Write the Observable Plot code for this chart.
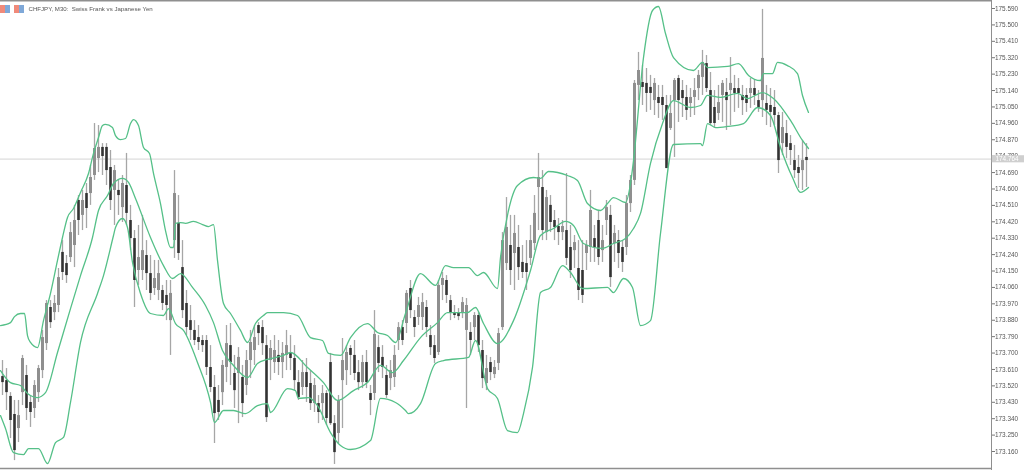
<!DOCTYPE html>
<html>
<head>
<meta charset="utf-8">
<script src="https://cdn.jsdelivr.net/npm/d3@7"></script>
<script src="https://cdn.jsdelivr.net/npm/@observablehq/plot@0.6"></script>
<style>
html,body{margin:0;padding:0;background:#fff;overflow:hidden}
#wrap{position:relative;width:1024px;height:470px}
#wrap svg{display:block;filter:blur(0.5px)}
.ico{position:absolute;top:5px;width:5px;height:8px;filter:blur(0.5px)}
</style>
</head>
<body>
<div id="wrap"></div>
<script>
const title = "CHFJPY, M30:  Swiss Frank vs Japanese Yen";
const lastPrice = 174.764;
const priceTicks = [175.59,175.50,175.41,175.32,175.23,175.14,175.05,174.96,174.87,174.78,174.69,174.60,174.51,174.42,174.33,174.24,174.15,174.06,173.97,173.88,173.79,173.70,173.61,173.52,173.43,173.34,173.25,173.16];

const highs = [173.659,173.615,173.483,173.440,173.440,173.687,173.632,173.467,173.549,173.632,
173.824,173.988,173.988,174.016,174.164,174.317,174.235,174.416,174.510,174.564,
174.592,174.630,174.729,174.959,174.948,174.849,174.849,174.811,174.729,174.647,
174.674,174.795,174.510,174.372,174.400,174.455,174.317,174.235,174.208,174.208,
174.071,174.098,174.098,174.701,174.564,174.317,174.043,173.961,173.878,173.851,
173.796,173.796,173.741,173.577,173.522,173.659,173.851,173.862,173.687,173.730,
173.632,173.714,173.824,173.851,173.867,173.878,173.796,173.769,173.796,173.769,
173.758,173.824,173.796,173.741,173.604,173.659,173.670,173.604,173.560,173.467,
173.522,173.494,173.698,173.357,173.467,173.780,173.741,173.741,173.769,173.659,
173.687,173.714,173.522,173.933,173.796,173.741,173.632,173.659,173.741,173.867,
173.878,174.043,174.098,173.933,174.005,174.027,173.988,173.851,173.796,174.098,
174.142,174.125,174.016,173.961,173.944,174.005,173.999,173.867,173.922,173.922,
173.769,173.687,173.676,173.659,173.835,174.361,174.553,174.455,174.455,174.400,
174.290,174.317,174.400,174.564,174.795,174.701,174.592,174.564,174.482,174.438,
174.427,174.685,174.400,174.345,174.317,174.317,174.317,174.592,174.400,174.482,
174.400,174.537,174.510,174.400,174.372,174.317,174.564,174.674,175.195,175.349,
175.277,175.261,175.223,175.206,175.168,175.168,175.113,175.113,175.206,175.223,
175.195,175.168,175.151,175.206,175.250,175.360,175.332,175.239,175.140,175.168,
175.195,175.206,175.321,175.223,175.206,175.168,175.151,175.206,175.195,175.140,
175.585,175.168,175.151,175.140,175.020,175.020,174.976,174.893,174.839,174.784,
174.866,174.849];

const lows = [173.467,173.385,173.231,173.110,173.209,173.412,173.330,173.292,173.341,173.429,
173.560,173.714,173.835,173.878,173.922,174.098,174.082,174.197,174.169,174.345,
174.372,174.383,174.510,174.647,174.690,174.674,174.619,174.482,174.400,174.455,
174.416,174.400,174.262,173.950,174.071,174.098,174.043,173.988,174.016,173.988,
173.933,173.878,173.687,174.219,174.208,173.889,173.796,173.769,173.741,173.714,
173.703,173.577,173.483,173.204,173.330,173.412,173.538,173.522,173.396,173.313,
173.346,173.467,173.560,173.632,173.741,173.687,173.319,173.549,173.588,173.577,
173.560,173.604,173.604,173.494,173.440,173.467,173.429,173.385,173.374,173.313,
173.330,173.303,173.303,173.089,173.204,173.286,173.522,173.577,173.549,173.494,
173.505,173.505,173.357,173.440,173.593,173.560,173.451,173.494,173.511,173.714,
173.741,173.807,173.889,173.785,173.851,173.824,173.785,173.687,173.643,173.687,
173.988,173.972,173.878,173.889,173.878,173.889,173.396,173.687,173.769,173.703,
173.505,173.494,173.549,173.560,173.604,173.824,174.153,174.071,174.043,174.098,
174.109,174.043,174.180,174.262,174.372,174.317,174.317,174.361,174.317,174.290,
174.317,174.180,174.109,174.164,173.988,173.972,174.153,174.197,174.197,174.180,
174.197,174.345,174.060,174.197,174.164,174.142,174.235,174.471,174.619,175.085,
175.058,175.020,175.031,175.003,174.987,174.976,174.712,174.921,174.773,174.965,
174.992,174.976,174.992,175.003,175.085,175.113,175.129,174.948,174.932,174.976,
174.965,174.921,174.948,175.020,175.042,175.003,175.020,175.042,175.058,175.020,
174.992,174.948,174.937,174.948,174.685,174.784,174.767,174.729,174.658,174.603,
174.592,174.608];

const bodyTops = [173.571,173.549,173.462,173.363,173.357,173.670,173.577,173.429,173.522,173.615,
173.785,173.972,173.950,173.972,174.114,174.252,174.191,174.361,174.427,174.537,
174.537,174.575,174.663,174.822,174.828,174.828,174.828,174.718,174.701,174.592,
174.630,174.619,174.427,174.328,174.224,174.262,174.235,174.136,174.109,174.136,
174.043,174.016,174.027,174.575,174.411,174.169,173.972,173.878,173.824,173.785,
173.769,173.769,173.621,173.511,173.440,173.632,173.752,173.741,173.588,173.676,
173.566,173.659,173.758,173.785,173.851,173.840,173.741,173.725,173.714,173.687,
173.698,173.741,173.698,173.670,173.538,173.593,173.593,173.533,173.522,173.423,
173.478,173.478,173.648,173.313,173.440,173.659,173.703,173.725,173.687,173.593,
173.648,173.648,173.478,173.802,173.730,173.676,173.577,173.604,173.687,173.840,
173.840,174.027,174.054,173.895,173.961,173.977,173.950,173.796,173.741,174.071,
174.109,174.098,173.988,173.922,173.922,173.977,173.961,173.813,173.906,173.906,
173.714,173.615,173.648,173.621,173.807,174.317,174.389,174.290,174.356,174.279,
174.197,174.191,174.317,174.466,174.663,174.608,174.553,174.510,174.427,174.394,
174.394,174.372,174.279,174.306,174.164,174.153,174.290,174.482,174.328,174.427,
174.317,174.498,174.455,174.356,174.317,174.279,174.520,174.647,175.179,175.250,
175.184,175.179,175.157,175.179,175.102,175.102,175.058,175.014,175.195,175.206,
175.140,175.102,175.102,175.140,175.223,175.294,175.288,175.140,175.047,175.074,
175.179,175.129,175.179,175.151,175.151,175.113,175.113,175.151,175.151,175.085,
175.316,175.069,175.058,175.047,175.003,174.937,174.904,174.849,174.756,174.718,
174.756,174.773];

const bodyBottoms = [173.538,173.483,173.330,173.165,173.286,173.483,173.396,173.374,173.396,173.483,
173.604,173.752,173.867,173.922,173.961,174.142,174.125,174.224,174.290,174.427,
174.455,174.493,174.575,174.674,174.767,174.778,174.701,174.537,174.592,174.564,
174.498,174.466,174.328,174.098,174.153,174.153,174.136,174.027,174.054,174.043,
173.972,173.961,173.878,174.317,174.246,173.933,173.840,173.824,173.769,173.758,
173.741,173.621,173.511,173.368,173.374,173.483,173.621,173.648,173.494,173.588,
173.423,173.522,173.659,173.714,173.807,173.752,173.346,173.659,173.648,173.648,
173.648,173.687,173.670,173.549,173.456,173.511,173.511,173.423,173.423,173.374,
173.423,173.341,173.313,173.154,173.259,173.549,173.604,173.687,173.588,173.538,
173.538,173.538,173.440,173.478,173.643,173.621,173.467,173.560,173.566,173.769,
173.769,173.862,173.933,173.840,173.895,173.895,173.840,173.730,173.670,173.703,
174.071,174.016,173.917,173.906,173.900,173.917,173.824,173.769,173.840,173.741,
173.560,173.533,173.593,173.582,173.643,173.840,174.191,174.153,174.246,174.169,
174.142,174.142,174.219,174.301,174.608,174.372,174.361,174.416,174.389,174.361,
174.361,174.219,174.153,174.262,174.043,174.016,174.246,174.279,174.279,174.224,
174.262,174.427,174.114,174.301,174.246,174.197,174.279,174.520,174.647,175.168,
175.157,175.124,175.124,175.085,175.069,175.058,174.712,174.932,175.085,175.085,
175.096,175.031,175.069,175.102,175.151,175.212,175.151,174.959,174.959,175.014,
175.113,175.085,175.140,175.124,175.124,175.085,175.069,175.124,175.113,175.047,
175.085,175.031,175.020,175.003,174.756,174.849,174.828,174.811,174.701,174.685,
174.701,174.756];

const directions = ("DDDDUUDDUU"+"UUDUUDDUUD"+"UDUUUDDDUD"+"UDDDUUDDUU"+"DDUUDDDDDD"+
"DDDDDUUDDU"+"DUUUDDDUUD"+"UUDDDUDDUD"+"UDDDUUUDDD"+"UDDUDDDUUU"+
"DUDDUUDDDU"+"UDDDDUUDUD"+"DUDUUUUDUD"+"DDUUUDUDDD"+"UDDUDDUUDD"+
"UUDUDDUUUU"+"DDDUDDDUUD"+"DDUUUUDDDU"+"UDUDDDDUDD"+"UDDDDUDDDD"+"UD").split("");

const upperBars = [0,2.5,3.5,5,6,6.75,7.5,9.25,10.75,12.5,14.25,15.5,16.75,18.25,20,22,23.25,24.5,25.5,26.25,28,28.75,30,31.25,32.5,33.25,34.5,35.75,37.25,38.25,40,41.25,42.5,43.25,43.75,45,46.25,48.25,50.5,52,53.25,54.25,55.75,57.5,60,61.75,63.75,65.75,66.75,70.75,74.25,77.5,80.5,82,85,87.5,91.75,94.25,96.75,98.75,101.25,105,108.75,111.25,113.25,117,119.25,120.75,124.25,125,127,129.25,133.25,135,137,141.75,144.25,146.75,150,151.75,153.25,156.25,157.5,158.25,160.75,163,164.5,166.25,168.25,173.25,175.5,176.75,181.75,184.5,187,190,190.75,193,194.25,196.75,199.25,200.5,202];
const upperPrices = [173.851,173.867,173.900,173.917,173.917,173.796,173.758,173.730,173.878,174.027,174.208,174.334,174.444,174.493,174.581,174.685,174.795,174.882,174.948,174.954,174.937,174.893,174.871,174.877,174.959,174.981,174.948,174.828,174.795,174.685,174.520,174.372,174.279,174.279,174.411,174.416,174.411,174.422,174.405,174.394,174.405,174.208,173.972,173.917,173.824,173.758,173.862,173.906,173.922,173.922,173.906,173.785,173.769,173.698,173.687,173.785,173.862,173.813,173.796,173.758,173.917,174.136,174.071,174.180,174.169,174.169,174.125,174.142,174.054,174.224,174.482,174.619,174.663,174.658,174.696,174.674,174.647,174.520,174.482,174.520,174.553,174.526,174.630,174.756,175.321,175.579,175.601,175.453,175.321,175.250,175.294,175.266,175.272,175.288,175.223,175.195,175.233,175.233,175.294,175.277,175.233,175.113,175.020];

const middleBars = [0,2.5,5,6.75,9.25,11.25,14.25,17.5,20,23,24.5,26.75,28.25,30.5,32,33.75,37.5,40.75,43,45,48,51.25,53.25,55.5,58.25,61.75,64.25,66.75,70.75,72.5,76.75,80.75,84.25,88.25,91.75,95,98,100.75,105,109.25,111.75,116.75,118.75,120.75,124.25,128.25,132.5,135,138.25,141.25,143.25,145.75,150.5,153.25,156.25,158.25,160,162.5,165.5,168.25,172.5,175,176.75,180,184.25,186.75,190.5,193.25,197.5,200.5,202];
const middlePrices = [173.604,173.538,173.522,173.478,173.456,173.483,173.703,173.944,174.125,174.334,174.482,174.564,174.630,174.658,174.636,174.548,174.334,174.180,174.109,174.136,174.060,173.961,173.867,173.714,173.632,173.566,173.643,173.665,173.687,173.703,173.621,173.538,173.440,173.494,173.538,173.632,173.593,173.659,173.785,173.867,173.922,173.922,173.950,173.862,173.752,173.878,174.153,174.345,174.383,174.422,174.400,174.301,174.274,174.301,174.328,174.383,174.466,174.740,174.959,175.085,175.047,175.058,175.113,175.102,175.124,175.096,175.129,175.096,174.976,174.866,174.822];

const lowerBars = [0,1.25,3.25,5.75,7,9.5,11.75,13.75,15.75,17.5,20,24.25,25.75,28.25,28.75,30.5,31.75,33,35,37.5,40.75,42,43.75,45.75,49.25,52.5,53.5,55.75,58.25,61.25,64.25,66.75,67.5,71.75,73.75,74.5,77,79.25,82.5,85,87.5,92.5,95,98.75,101.25,102,105,108.75,110.75,117,118.75,121.75,124.25,126.75,129.25,130.75,133,135,137.5,140.5,142.5,145.5,151.75,153.25,155.75,158,160,162.5,165,168.25,175,175.5,176.75,178.75,181.75,185.75,189.25,192.5,195,198,200,202];
const lowerPrices = [173.357,173.286,173.154,173.143,173.176,173.176,173.094,173.209,173.237,173.429,173.758,174.027,174.125,174.345,174.389,174.438,174.389,174.197,174.027,173.917,173.906,173.944,173.862,173.824,173.648,173.429,173.319,173.385,173.385,173.368,173.412,173.423,173.374,173.505,173.494,173.451,173.456,173.412,173.264,173.193,173.171,173.220,173.451,173.429,173.385,173.368,173.423,173.643,173.659,173.676,173.769,173.505,173.451,173.275,173.264,173.368,173.621,174.032,174.060,174.180,174.142,174.054,174.060,174.032,174.109,174.060,173.851,173.878,174.356,174.844,174.849,174.838,174.959,174.937,174.943,174.959,175.047,175.003,174.828,174.663,174.581,174.608];

const candles = highs.map((h,i)=>({bar:i+0.5,high:h,low:lows[i],top:bodyTops[i],bottom:bodyBottoms[i],dir:directions[i]}));
const band = (bars,prices)=>bars.map((b,i)=>({bar:b,price:prices[i]}));

const axisEnd = 247.75, frameEnd = 256;
const green = "#55c088";

const chart = Plot.plot({
  width:1024, height:470,
  marginLeft:0, marginRight:33, marginTop:0, marginBottom:0,
  style:{background:"#fff",fontFamily:"'Liberation Sans',sans-serif",overflow:"visible"},
  x:{domain:[0,axisEnd],axis:null},
  y:{domain:[173.0558,175.6339],axis:null},
  marks:[
    Plot.ruleY([lastPrice],{stroke:"#d4d4d4",strokeWidth:1}),
    Plot.ruleX(candles,{x:"bar",y1:"low",y2:"high",stroke:"#a6a6a6",strokeWidth:1.3}),
    Plot.ruleX(candles.filter(d=>d.dir==="U"),{x:"bar",y1:"bottom",y2:"top",stroke:"#8f8f8f",strokeWidth:3}),
    Plot.ruleX(candles.filter(d=>d.dir==="D"),{x:"bar",y1:"bottom",y2:"top",stroke:"#333333",strokeWidth:2.6}),
    Plot.line(band(upperBars,upperPrices),{x:"bar",y:"price",stroke:green,strokeWidth:1.3,curve:"monotone-x"}),
    Plot.line(band(middleBars,middlePrices),{x:"bar",y:"price",stroke:green,strokeWidth:1.3,curve:"monotone-x"}),
    Plot.line(band(lowerBars,lowerPrices),{x:"bar",y:"price",stroke:green,strokeWidth:1.3,curve:"monotone-x"}),
    Plot.ruleX([axisEnd],{stroke:"#8f8f8f",strokeWidth:1}),
    Plot.ruleY([175.6325,173.0665],{stroke:"#8f8f8f",strokeWidth:1.5}),
    Plot.axisY(priceTicks,{anchor:"right",label:null,tickSize:3,tickPadding:0.5,stroke:"#777",fill:"#555",fontSize:6.4,tickFormat:d3.format(".3f")}),
    Plot.rect([lastPrice],{x1:axisEnd+0.2,x2:frameEnd,y1:d=>d-0.0205,y2:d=>d+0.0185,fill:"#cfcfcf"}),
    Plot.text([lastPrice],{x:axisEnd+1,y:d=>d,text:d=>d.toFixed(3),textAnchor:"start",fill:"#fff",fontSize:6.4}),
    Plot.text([title],{frameAnchor:"top-left",dx:28,dy:6,text:d=>d,textAnchor:"start",fill:"#555",fontSize:6.1})
  ]
});
const wrap = document.getElementById("wrap");
wrap.appendChild(chart);
[[0,"#f08a7a"],[5,"#7fa8d8"],[14,"#f08a7a"],[19,"#7fa8d8"]].forEach(([l,c])=>{
  const d=document.createElement("div");d.className="ico";d.style.left=l+"px";d.style.background=c;wrap.appendChild(d);
});
</script>
</body>
</html>
